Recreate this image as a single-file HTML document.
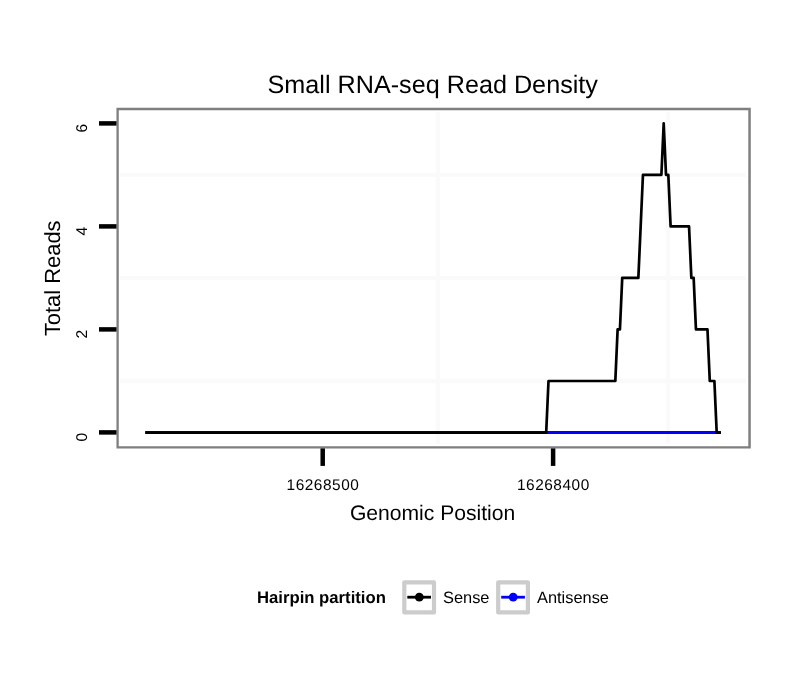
<!DOCTYPE html>
<html><head><meta charset="utf-8"><style>
html,body{margin:0;padding:0;background:#fff;overflow:hidden;width:810px;height:690px;}
svg{display:block;will-change:transform;}
text{font-family:"Liberation Sans",Arial,Helvetica,sans-serif;fill:#000;text-rendering:geometricPrecision;}
</style></head><body>
<svg width="810" height="690" viewBox="0 0 810 690">
<rect x="0" y="0" width="810" height="690" fill="#fff"/>
<!-- minor grid -->
<g stroke="#fafafa" stroke-width="4.3" fill="none">
<line x1="120.3" y1="381.00" x2="745.9" y2="381.00"/>
<line x1="120.3" y1="277.90" x2="745.9" y2="277.90"/>
<line x1="120.3" y1="174.80" x2="745.9" y2="174.80"/>
<line x1="437.91" y1="112.2" x2="437.91" y2="443.8"/>
<line x1="668.31" y1="112.2" x2="668.31" y2="443.8"/>
</g>
<!-- data -->
<polyline points="145.30,432.55 720.90,432.55" fill="none" stroke="#0000ff" stroke-width="2.9" stroke-linejoin="round" stroke-linecap="butt"/>
<polyline points="145.30,432.55 546.20,432.55 548.50,381.00 615.32,381.00 617.62,329.45 619.92,329.45 622.23,277.90 638.36,277.90 642.96,174.80 661.40,174.80 663.70,123.25 666.00,174.80 668.31,174.80 670.61,226.35 689.04,226.35 691.35,277.90 693.65,277.90 695.96,329.45 707.48,329.45 709.78,381.00 714.39,381.00 716.69,432.55 720.90,432.55" fill="none" stroke="#000" stroke-width="2.7" stroke-linejoin="round" stroke-linecap="butt"/>
<!-- panel border -->
<path fill="#7f7f7f" fill-rule="evenodd" d="M116.45 107.85H750.8V448.6H116.45Z M118.75 110.15V446.2H748.3V110.15Z"/>
<!-- y ticks -->
<g stroke="#000" stroke-width="4.5">
<line x1="99" y1="432.40" x2="116.5" y2="432.40"/>
<line x1="99" y1="329.40" x2="116.5" y2="329.40"/>
<line x1="99" y1="226.40" x2="116.5" y2="226.40"/>
<line x1="99" y1="123.40" x2="116.5" y2="123.40"/>
<line x1="322.71" y1="448.4" x2="322.71" y2="465.9"/>
<line x1="553.11" y1="448.4" x2="553.11" y2="465.9"/>
</g>
<!-- y tick labels -->
<g font-size="15.6" text-anchor="end">
<text transform="translate(87.0,432.90) rotate(-90)">0</text>
<text transform="translate(87.0,329.90) rotate(-90)">2</text>
<text transform="translate(87.0,226.90) rotate(-90)">4</text>
<text transform="translate(87.0,123.90) rotate(-90)">6</text>
</g>
<!-- x tick labels -->
<g font-size="15.4" text-anchor="middle" letter-spacing="0.55">
<text x="322.98" y="490.2">16268500</text>
<text x="553.38" y="490.2">16268400</text>
</g>
<!-- titles -->
<text x="432.75" y="92.6" font-size="25.2" text-anchor="middle">Small RNA-seq Read Density</text>
<text x="432.6" y="519.6" font-size="21.1" text-anchor="middle">Genomic Position</text>
<text transform="translate(60,278.3) rotate(-90)" font-size="21.9" text-anchor="middle">Total Reads</text>
<!-- legend -->
<text x="257" y="602.6" font-size="16.7" font-weight="bold">Hairpin partition</text>
<rect x="404.3" y="582.4" width="29.7" height="30.0" fill="#fff" stroke="#cccccc" stroke-width="4.2" stroke-linejoin="round"/>
<line x1="407.3" y1="597.2" x2="431" y2="597.2" stroke="#000" stroke-width="2.8"/>
<circle cx="419.3" cy="597.2" r="4.4" fill="#000"/>
<text x="443" y="602.6" font-size="16.4">Sense</text>
<rect x="498.2" y="582.4" width="29.7" height="30.0" fill="#fff" stroke="#cccccc" stroke-width="4.2" stroke-linejoin="round"/>
<line x1="501.2" y1="597.2" x2="524.9" y2="597.2" stroke="#0000ff" stroke-width="2.8"/>
<circle cx="513.2" cy="597.2" r="4.4" fill="#0000ff"/>
<text x="537" y="602.6" font-size="16.4">Antisense</text>
</svg>
</body></html>
